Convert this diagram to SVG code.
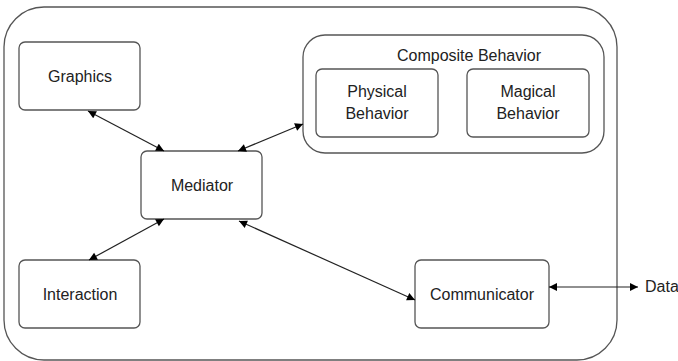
<svg xmlns="http://www.w3.org/2000/svg" width="678" height="361" viewBox="0 0 678 361">
<style>
.box{fill:#fff;stroke:#555;stroke-width:1.3}
.t{font-family:"Liberation Sans",Arial,sans-serif;font-size:16px;fill:#222;text-anchor:middle}
.c{stroke:#222;stroke-width:1.2;fill:none;marker-start:url(#ah);marker-end:url(#ah)}
</style>
<defs>
<marker id="ah" viewBox="0 0 10 10" refX="10" refY="5" markerWidth="10" markerHeight="8" markerUnits="userSpaceOnUse" orient="auto-start-reverse">
<path d="M0,0 L10,5 L0,10 z" fill="#000"/>
</marker>
</defs>
<rect id="system" x="4" y="7" width="613" height="353" rx="40" ry="40" fill="#fff" stroke="#555" stroke-width="1.3"/>
<g id="graphics"><rect class="box" x="19" y="42" width="121" height="68" rx="6"/><text class="t" x="80" y="82">Graphics</text></g>
<g id="mediator"><rect class="box" x="141" y="151" width="121" height="68" rx="6"/><text class="t" x="202" y="191">Mediator</text></g>
<g id="interaction"><rect class="box" x="19" y="260" width="121" height="68" rx="6"/><text class="t" x="80" y="300">Interaction</text></g>
<g id="communicator"><rect class="box" x="415" y="260" width="134" height="68" rx="6"/><text class="t" x="482" y="300">Communicator</text></g>
<g id="composite"><rect class="box" x="303" y="35" width="301" height="118" rx="22"/><text class="t" x="469" y="61">Composite Behavior</text></g>
<g id="physical"><rect class="box" x="316" y="69" width="122" height="68" rx="6"/><text class="t" x="377" y="97">Physical</text><text class="t" x="377" y="119">Behavior</text></g>
<g id="magical"><rect class="box" x="467" y="69" width="122" height="68" rx="6"/><text class="t" x="528" y="97">Magical</text><text class="t" x="528" y="119">Behavior</text></g>
<g id="data"><text class="t" x="645" y="292" style="text-anchor:start">Data</text></g>
<g id="connectors">
<line class="c" x1="88" y1="111" x2="164" y2="151"/>
<line class="c" x1="238" y1="151" x2="303" y2="124"/>
<line class="c" x1="164" y1="219" x2="89" y2="260"/>
<line class="c" x1="239" y1="221" x2="415" y2="300"/>
<line class="c" x1="549" y1="287" x2="638" y2="287"/>
</g>
</svg>
